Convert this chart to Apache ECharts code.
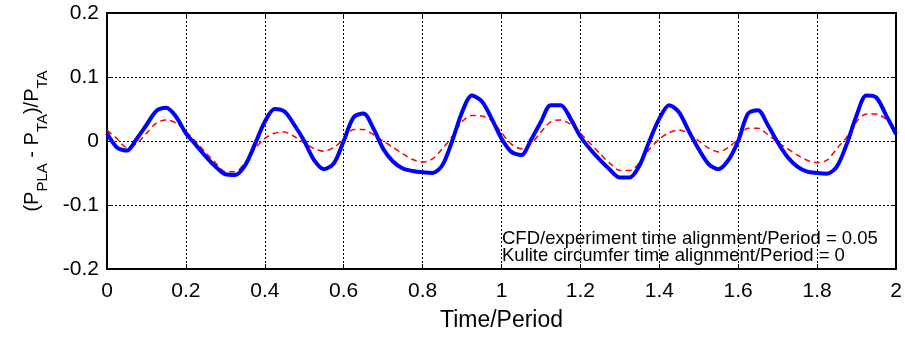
<!DOCTYPE html>
<html>
<head>
<meta charset="utf-8">
<script src="https://cdn.jsdelivr.net/npm/echarts@6/dist/echarts.min.js"></script>
<style>
  html, body { margin: 0; padding: 0; background: #fff; }
</style>
</head>
<body>
<div id="main" style="width: 905px;height:337px;"></div>
<script type="text/javascript">
    // time axis, Time/Period
    var time = [];
    for (var i = 0; i <= 80; i++) time.push(+(i * 0.025).toFixed(3));

    // blue solid curve (thick)
    var blueVals = [
        0.012, -0.010, -0.015, 0.003, 0.025, 0.047, 0.052, 0.038, 0.012, -0.006,
        -0.024, -0.040, -0.052, -0.053, -0.038, -0.005, 0.030, 0.050, 0.046, 0.025,
        0.000, -0.030, -0.044, -0.035, 0.000, 0.037, 0.043, 0.020, -0.012, -0.032,
        -0.043, -0.047, -0.049, -0.050, -0.038, 0.000, 0.045, 0.071, 0.062, 0.035,
        0.004, -0.017, -0.022, 0.002, 0.030, 0.056, 0.056, 0.035, 0.007, -0.013,
        -0.030, -0.045, -0.057, -0.057, -0.038, 0.000, 0.035, 0.056, 0.045, 0.015,
        -0.013, -0.036, -0.044, -0.030, 0.000, 0.043, 0.048, 0.025, -0.002, -0.025,
        -0.040, -0.048, -0.050, -0.051, -0.040, -0.005, 0.040, 0.071, 0.068, 0.040,
        0.011
    ];

    // red dashed curve
    var redVals = [
        0.017, 0.004, -0.010, -0.004, 0.012, 0.028, 0.033, 0.028, 0.015, -0.001,
        -0.018, -0.034, -0.048, -0.048, -0.034, -0.012, 0.004, 0.012, 0.014, 0.007,
        -0.003, -0.012, -0.016, -0.010, 0.003, 0.018, 0.018, 0.010, 0.000, -0.010,
        -0.020, -0.029, -0.033, -0.028, -0.012, 0.007, 0.030, 0.040, 0.039, 0.032,
        0.013, -0.005, -0.012, -0.004, 0.014, 0.030, 0.033, 0.026, 0.012, -0.004,
        -0.020, -0.035, -0.046, -0.046, -0.034, -0.013, 0.003, 0.013, 0.017, 0.012,
        0.000, -0.011, -0.017, -0.010, 0.003, 0.020, 0.020, 0.010, -0.002, -0.012,
        -0.022, -0.030, -0.034, -0.030, -0.012, 0.006, 0.030, 0.042, 0.042, 0.034,
        0.019
    ];

    var noteLines = [
        'CFD/experiment time alignment/Period = 0.05',
        'Kulite circumfer time alignment/Period = 0'
    ];

    function pairs(xs, ys) {
        return xs.map(function (x, k) { return [x, ys[k]]; });
    }

    var fontFam = '"Liberation Sans", Arial, sans-serif';
    var gridLine = { show: true, lineStyle: { color: '#000', width: 1, type: [2, 2] } };

    var myChart = echarts.init(document.getElementById('main'));
    var option = {
        animation: false,
        textStyle: { fontFamily: fontFam },
        grid: {
            left: 107, right: 9, top: 13, bottom: 68,
            show: true, borderColor: '#000', borderWidth: 2, backgroundColor: 'transparent'
        },
        xAxis: [{
            type: 'value', min: 0, max: 2, interval: 0.2,
            name: 'Time/Period', nameLocation: 'middle', nameGap: 40,
            nameTextStyle: { fontSize: 23, color: '#000', fontFamily: fontFam },
            axisLine: { show: true, onZero: false, lineStyle: { color: '#000', width: 2 } },
            axisTick: { inside: true, length: 5, lineStyle: { color: '#000' } },
            axisLabel: { fontSize: 21, color: '#000', margin: 12, fontFamily: fontFam },
            splitLine: gridLine
        }, {
            type: 'value', min: 0, max: 2, interval: 0.2, position: 'top',
            axisLine: { show: false, onZero: false },
            axisTick: { inside: true, length: 5, lineStyle: { color: '#000' } },
            axisLabel: { show: false }, splitLine: { show: false }
        }],
        yAxis: [{
            type: 'value', min: -0.2, max: 0.2, interval: 0.1,
            name: '{m|(P}{s|PLA}{m| - P}{s|TA}{m|)/P}{s|TA}',
            nameLocation: 'middle', nameGap: 57, nameRotate: 90,
            nameTextStyle: {
                color: '#000',
                rich: {
                    m: { fontSize: 20, fontFamily: fontFam, color: '#000', lineHeight: 28, verticalAlign: 'top' },
                    s: { fontSize: 15, fontFamily: fontFam, color: '#000', lineHeight: 28, verticalAlign: 'bottom' }
                }
            },
            axisLine: { show: true, onZero: false, lineStyle: { color: '#000', width: 2 } },
            axisTick: { inside: true, length: 5, lineStyle: { color: '#000' } },
            axisLabel: { fontSize: 21, color: '#000', margin: 8, fontFamily: fontFam },
            splitLine: gridLine
        }, {
            type: 'value', min: -0.2, max: 0.2, interval: 0.1, position: 'right',
            axisLine: { show: false, onZero: false },
            axisTick: { inside: true, length: 5, lineStyle: { color: '#000' } },
            axisLabel: { show: false }, splitLine: { show: false }
        }],
        graphic: [{
            type: 'text', left: 502, top: 229.5, z: 100,
            style: {
                text: noteLines.join('\n'),
                font: '18.5px ' + fontFam,
                lineHeight: 16.5,
                fill: '#000'
            }
        }],
        series: [{
            name: 'red', type: 'line', data: pairs(time, redVals),
            smooth: 0.3, showSymbol: false, z: 3,
            lineStyle: { color: '#ff0000', width: 1.5, type: [6, 4] }
        }, {
            name: 'blue', type: 'line', data: pairs(time, blueVals),
            smooth: 0.3, showSymbol: false, z: 4,
            lineStyle: { color: '#0000ff', width: 4 }
        }]
    };
    myChart.setOption(option);
</script>
</body>
</html>
